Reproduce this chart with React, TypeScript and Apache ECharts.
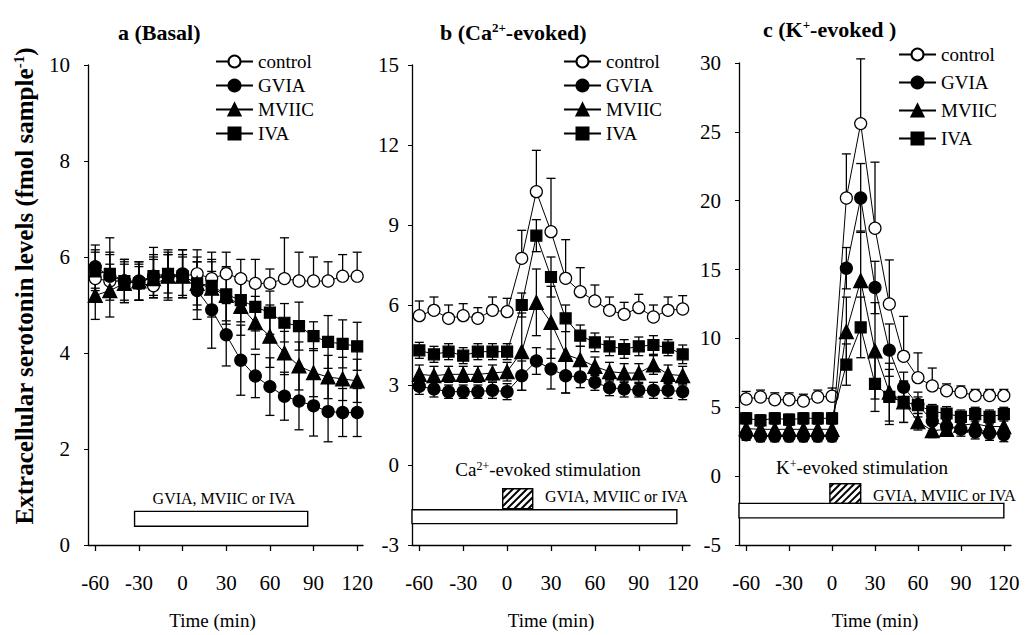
import React, { useEffect, useRef } from "react";
import * as echarts from "echarts";

const FONT = "'Liberation Serif', 'Times New Roman', serif";

// ---- data ----
const times = [-60, -50, -40, -30, -20, -10, 0, 10, 20, 30, 40, 50, 60, 70, 80, 90, 100, 110, 120];
const timeTicks = [-60, -30, 0, 30, 60, 90, 120];
const seriesNames = ["control", "GVIA", "MVIIC", "IVA"];

// a (Basal)
const basalControl = [5.55, 5.5, 5.5, 5.45, 5.4, 5.6, 5.6, 5.65, 5.55, 5.65, 5.55, 5.45, 5.45, 5.55, 5.5, 5.5, 5.5, 5.6, 5.6];
const basalControlErr = [0.6, 0.9, 0.45, 0.4, 0.8, 0.55, 0.55, 0.5, 0.55, 0.45, 0.4, 0.5, 0.3, 0.85, 0.6, 0.5, 0.4, 0.45, 0.5];
const basalGVIA = [5.8, 5.6, 5.5, 5.5, 5.6, 5.6, 5.65, 5.3, 4.9, 4.38, 3.85, 3.52, 3.3, 3.1, 3.0, 2.9, 2.78, 2.76, 2.76];
const basalGVIAErr = [0.45, 0.5, 0.45, 0.4, 0.45, 0.5, 0.5, 0.6, 0.8, 0.65, 0.73, 0.45, 0.6, 0.5, 0.6, 0.63, 0.63, 0.5, 0.5];
const basalMVIIC = [5.2, 5.3, 5.45, 5.5, 5.55, 5.6, 5.6, 5.45, 5.35, 5.2, 4.97, 4.63, 4.35, 4.0, 3.73, 3.59, 3.5, 3.46, 3.42];
const basalMVIICErr = [0.5, 0.55, 0.4, 0.4, 0.4, 0.45, 0.45, 0.55, 0.6, 0.6, 0.6, 0.55, 0.65, 0.45, 0.5, 0.5, 0.45, 0.45, 0.45];
const basalIVA = [5.7, 5.65, 5.5, 5.45, 5.6, 5.65, 5.6, 5.45, 5.4, 5.22, 5.1, 4.96, 4.84, 4.63, 4.56, 4.35, 4.23, 4.19, 4.14];
const basalIVAErr = [0.4, 0.4, 0.4, 0.35, 0.4, 0.4, 0.4, 0.45, 0.5, 0.55, 0.45, 0.5, 0.45, 0.4, 0.5, 0.3, 0.55, 0.5, 0.5];

// b (Ca2+-evoked)
const caControl = [5.6, 5.8, 5.5, 5.6, 5.5, 5.8, 5.75, 7.75, 10.25, 8.75, 7.0, 6.5, 6.15, 5.8, 5.65, 5.9, 5.55, 5.8, 5.85];
const caControlErr = [0.55, 0.5, 0.5, 0.45, 0.4, 0.5, 0.5, 1.05, 1.55, 2.0, 1.45, 0.9, 0.6, 0.5, 0.45, 0.5, 0.45, 0.5, 0.5];
const caGVIA = [2.95, 2.85, 2.75, 2.75, 2.75, 2.8, 2.75, 3.35, 3.9, 3.6, 3.35, 3.3, 3.1, 2.9, 2.85, 2.8, 2.8, 2.8, 2.75];
const caGVIAErr = [0.3, 0.3, 0.25, 0.25, 0.25, 0.3, 0.3, 0.55, 0.5, 0.75, 0.65, 0.4, 0.3, 0.3, 0.3, 0.25, 0.3, 0.3, 0.3];
const caMVIIC = [3.4, 3.35, 3.4, 3.4, 3.4, 3.45, 3.5, 4.25, 6.1, 5.35, 4.15, 3.95, 3.7, 3.5, 3.45, 3.45, 3.75, 3.4, 3.35];
const caMVIICErr = [0.35, 0.35, 0.3, 0.3, 0.3, 0.3, 0.35, 1.45, 1.25, 1.35, 1.45, 0.5, 0.35, 0.35, 0.35, 0.35, 0.35, 0.35, 0.35];
const caIVA = [4.3, 4.15, 4.25, 4.1, 4.25, 4.25, 4.25, 6.0, 8.6, 7.05, 5.5, 4.85, 4.6, 4.45, 4.35, 4.45, 4.5, 4.4, 4.15];
const caIVAErr = [0.3, 0.3, 0.3, 0.3, 0.3, 0.3, 0.3, 0.45, 0.6, 0.75, 0.5, 0.4, 0.35, 0.35, 0.35, 0.35, 0.35, 0.3, 0.35];

// c (K+-evoked)
const kControl = [5.6, 5.75, 5.55, 5.55, 5.45, 5.75, 5.8, 20.2, 25.6, 18.0, 12.5, 8.7, 7.15, 6.55, 6.2, 6.1, 5.85, 5.85, 5.85];
const kControlErr = [0.55, 0.5, 0.5, 0.5, 0.5, 0.5, 0.6, 3.2, 4.7, 4.8, 3.2, 2.9, 1.8, 1.3, 0.5, 0.45, 0.45, 0.45, 0.45];
const kGVIA = [3.0, 2.9, 2.9, 2.9, 2.9, 2.9, 2.9, 15.1, 20.2, 13.7, 9.15, 6.45, 5.2, 4.0, 3.6, 3.4, 3.2, 3.1, 3.0];
const kGVIAErr = [0.4, 0.4, 0.4, 0.4, 0.4, 0.4, 0.4, 1.5, 2.5, 1.9, 1.9, 1.1, 0.9, 0.7, 0.5, 0.5, 0.5, 0.5, 0.5];
const kMVIIC = [3.45, 3.4, 3.4, 3.4, 3.4, 3.4, 3.4, 10.5, 14.2, 9.1, 6.1, 5.4, 3.95, 3.3, 3.4, 3.7, 3.8, 3.6, 3.6];
const kMVIICErr = [0.4, 0.4, 0.4, 0.4, 0.4, 0.4, 0.4, 2.5, 3.6, 3.5, 2.1, 1.5, 0.6, 0.5, 0.5, 0.5, 0.5, 0.5, 0.5];
const kIVA = [4.2, 4.05, 4.2, 4.1, 4.2, 4.2, 4.2, 8.1, 10.8, 6.7, 5.75, 5.4, 5.15, 4.7, 4.55, 4.3, 4.5, 4.3, 4.5];
const kIVAErr = [0.4, 0.4, 0.4, 0.4, 0.4, 0.4, 0.4, 1.5, 2.2, 2.0, 2.0, 1.5, 0.6, 0.5, 0.5, 0.5, 0.5, 0.5, 0.5];

// treatment periods: [tStart, tEnd, yLow, yHigh, hatched]
const basalBars = [[-33, 86, 0.39, 0.7, 0]];
const caBars = [[-3, 17.5, -1.64, -0.89, 1], [-65, 116, -2.2, -1.68, 0]];
const kBars = [[-1.5, 20, -1.98, -0.55, 1], [-65, 120, -3.03, -1.98, 0]];

// ---- styling ----
const markerStyle: Record<string, { symbol: string; size: number; fill: string; upOnly: boolean }> = {
  control: { symbol: "circle", size: 12, fill: "#fff", upOnly: true },
  GVIA: { symbol: "circle", size: 12, fill: "#000", upOnly: false },
  MVIIC: { symbol: "triangle", size: 14, fill: "#000", upOnly: false },
  IVA: { symbol: "rect", size: 11, fill: "#000", upOnly: false },
};

const panels = [
  {
    grid: { left: 88, top: 65, width: 275, height: 481 },
    xr: [-65, 124], yr: [0, 10, 2], labelMargin: 18, namePad: [0, 26, 0, 0],
    legend: { left: 215, top: 52, gap: 5 },
    values: [basalControl, basalGVIA, basalMVIIC, basalIVA],
    errs: [basalControlErr, basalGVIAErr, basalMVIICErr, basalIVAErr],
    bars: basalBars,
  },
  {
    grid: { left: 412, top: 65, width: 278, height: 482 },
    xr: [-65, 125], yr: [-3, 15, 3], labelMargin: 13, namePad: [0, 0, 0, 0],
    legend: { left: 563, top: 52, gap: 5 },
    values: [caControl, caGVIA, caMVIIC, caIVA],
    errs: [caControlErr, caGVIAErr, caMVIICErr, caIVAErr],
    bars: caBars,
  },
  {
    grid: { left: 739, top: 63, width: 272, height: 488.5 },
    xr: [-65, 125], yr: [-5, 30, 5], labelMargin: 18, namePad: [0, 0, 0, 0],
    legend: { left: 898, top: 45, gap: 9 },
    values: [kControl, kGVIA, kMVIIC, kIVA],
    errs: [kControlErr, kGVIAErr, kMVIICErr, kIVAErr],
    bars: kBars,
  },
];

const black = "#000";
const axisText = { fontFamily: FONT, fontSize: 21, color: black };

function errorSeries(k: number, name: string, vals: number[], errs: number[]) {
  const upOnly = markerStyle[name].upOnly;
  return {
    type: "custom",
    name: "err-" + name + "-" + k,
    xAxisIndex: k,
    yAxisIndex: k,
    silent: true,
    z: 1,
    encode: { x: 0, y: 1 },
    data: times.map((t, i) => [t, vals[i], errs[i]]),
    renderItem: (params: any, api: any) => {
      const x = api.value(0);
      const y = api.value(1);
      const e = api.value(2);
      const top = api.coord([x, y + e]);
      const bot = upOnly ? api.coord([x, y]) : api.coord([x, y - e]);
      const st = { stroke: black, lineWidth: 1.3 };
      const cap = 4.5;
      const children: any[] = [
        { type: "line", shape: { x1: top[0], y1: top[1], x2: bot[0], y2: bot[1] }, style: st },
        { type: "line", shape: { x1: top[0] - cap, y1: top[1], x2: top[0] + cap, y2: top[1] }, style: st },
      ];
      if (!upOnly) {
        children.push({ type: "line", shape: { x1: bot[0] - cap, y1: bot[1], x2: bot[0] + cap, y2: bot[1] }, style: st });
      }
      return { type: "group", children };
    },
  };
}

function barSeries(k: number, bars: number[][]) {
  return {
    type: "custom",
    name: "bars-" + k,
    xAxisIndex: k,
    yAxisIndex: k,
    silent: true,
    z: 1,
    data: bars,
    encode: { x: [0, 1], y: [2, 3] },
    renderItem: (params: any, api: any) => {
      const p0 = api.coord([api.value(0), api.value(3)]);
      const p1 = api.coord([api.value(1), api.value(2)]);
      const hatched = api.value(4) === 1;
      const x0 = p0[0], y0 = p0[1], x1 = p1[0], y1 = p1[1];
      const children: any[] = [
        { type: "rect", shape: { x: x0, y: y0, width: x1 - x0, height: y1 - y0 }, style: { fill: "#fff", stroke: black, lineWidth: 1.4 } },
      ];
      if (hatched) {
        const step = 7;
        for (let c = x0 + y0 + step / 2; c < x1 + y1; c += step) {
          const xa = Math.max(x0, c - y1);
          const xb = Math.min(x1, c - y0);
          if (xa < xb) {
            children.push({ type: "line", shape: { x1: xa, y1: c - xa, x2: xb, y2: c - xb }, style: { stroke: black, lineWidth: 2 } });
          }
        }
      }
      return { type: "group", children };
    },
  };
}

function buildOption() {
  const series: any[] = [];
  panels.forEach((p, k) => {
    series.push(barSeries(k, p.bars));
    seriesNames.forEach((name, j) => {
      series.push(errorSeries(k, name, p.values[j], p.errs[j]));
    });
    seriesNames.forEach((name, j) => {
      const ms = markerStyle[name];
      series.push({
        type: "line",
        name,
        xAxisIndex: k,
        yAxisIndex: k,
        z: 3 + j,
        data: times.map((t, i) => [t, p.values[j][i]]),
        symbol: ms.symbol,
        symbolSize: ms.size,
        showAllSymbol: true,
        lineStyle: { color: black, width: 1 },
        itemStyle: { color: ms.fill, borderColor: black, borderWidth: 1.2 },
        emphasis: { disabled: true },
      });
    });
  });

  const sup = (size: number, bold: boolean) => ({
    fontFamily: FONT, fontSize: size, fontWeight: bold ? "bold" : "normal", color: black, verticalAlign: "top", lineHeight: size,
  });

  return {
    animation: false,
    backgroundColor: "#fff",
    title: [
      { text: "a (Basal)", left: 118, top: 21, padding: 0, textStyle: { fontFamily: FONT, fontSize: 22, fontWeight: "bold", color: black } },
      {
        text: "b (Ca{sup|2+}-evoked)", left: 440, top: 21, padding: 0,
        textStyle: { fontFamily: FONT, fontSize: 22, fontWeight: "bold", color: black, rich: { sup: sup(13, true) } },
      },
      {
        text: "c (K{sup|+}-evoked )", left: 763, top: 18, padding: 0,
        textStyle: { fontFamily: FONT, fontSize: 22, fontWeight: "bold", color: black, rich: { sup: sup(13, true) } },
      },
    ],
    legend: panels.map((p) => ({
      data: seriesNames,
      orient: "vertical",
      left: p.legend.left,
      top: p.legend.top,
      itemWidth: 37,
      itemHeight: 15,
      itemGap: p.legend.gap,
      padding: 0,
      selectedMode: false,
      textStyle: { fontFamily: FONT, fontSize: 19, color: black },
    })),
    grid: panels.map((p) => ({ ...p.grid, containLabel: false })),
    xAxis: panels.map((p, k) => ({
      type: "value",
      gridIndex: k,
      min: p.xr[0],
      max: p.xr[1],
      axisLine: { onZero: false, lineStyle: { color: black, width: 1.3 } },
      axisTick: { customValues: timeTicks, length: 6, lineStyle: { color: black, width: 1.3 } },
      axisLabel: { customValues: timeTicks, margin: 27, ...axisText },
      splitLine: { show: false },
      name: "Time (min)",
      nameLocation: "middle",
      nameGap: 66,
      nameTextStyle: { fontFamily: FONT, fontSize: 19, color: black, padding: p.namePad },
    })),
    yAxis: panels.map((p, k) => ({
      type: "value",
      gridIndex: k,
      min: p.yr[0],
      max: p.yr[1],
      interval: p.yr[2],
      axisLine: { show: true, onZero: false, lineStyle: { color: black, width: 1.3 } },
      axisTick: { show: true, length: 4, lineStyle: { color: black, width: 1 } },
      axisLabel: { margin: p.labelMargin, ...axisText },
      splitLine: { show: false },
    })),
    graphic: [
      {
        type: "text", x: 24, y: 286, rotation: Math.PI / 2,
        style: {
          text: "Extracellular serotonin levels (fmol sample{sup|-1})",
          fontFamily: FONT, fontSize: 25, fontWeight: "bold", fill: black,
          align: "center", verticalAlign: "middle",
          rich: { sup: { fontFamily: FONT, fontSize: 15, fontWeight: "bold", fill: black, verticalAlign: "top", lineHeight: 15 } },
        },
      },
      {
        type: "text", x: 224, y: 498,
        style: { text: "GVIA, MVIIC or IVA", fontFamily: FONT, fontSize: 16, fill: black, align: "center", verticalAlign: "middle" },
      },
      {
        type: "text", x: 548, y: 469,
        style: {
          text: "Ca{sup|2+}-evoked stimulation", fontFamily: FONT, fontSize: 19, fill: black, align: "center", verticalAlign: "middle",
          rich: { sup: { fontFamily: FONT, fontSize: 12, fill: black, verticalAlign: "top", lineHeight: 12 } },
        },
      },
      {
        type: "text", x: 545, y: 496,
        style: { text: "GVIA, MVIIC or IVA", fontFamily: FONT, fontSize: 16, fill: black, align: "left", verticalAlign: "middle" },
      },
      {
        type: "text", x: 862, y: 467,
        style: {
          text: "K{sup|+}-evoked stimulation", fontFamily: FONT, fontSize: 19, fill: black, align: "center", verticalAlign: "middle",
          rich: { sup: { fontFamily: FONT, fontSize: 12, fill: black, verticalAlign: "top", lineHeight: 12 } },
        },
      },
      {
        type: "text", x: 873, y: 495,
        style: { text: "GVIA, MVIIC or IVA", fontFamily: FONT, fontSize: 16, fill: black, align: "left", verticalAlign: "middle" },
      },
    ],
    series,
  };
}

export default function App() {
  const ref = useRef<HTMLDivElement>(null);
  useEffect(() => {
    if (!ref.current) return;
    const chart = echarts.init(ref.current, null, { renderer: "svg" });
    chart.setOption(buildOption() as any);
    return () => chart.dispose();
  }, []);
  return (
    <div
      ref={ref}
      style={{ position: "fixed", left: 0, top: 0, width: 1026, height: 635, background: "#fff" }}
    />
  );
}
